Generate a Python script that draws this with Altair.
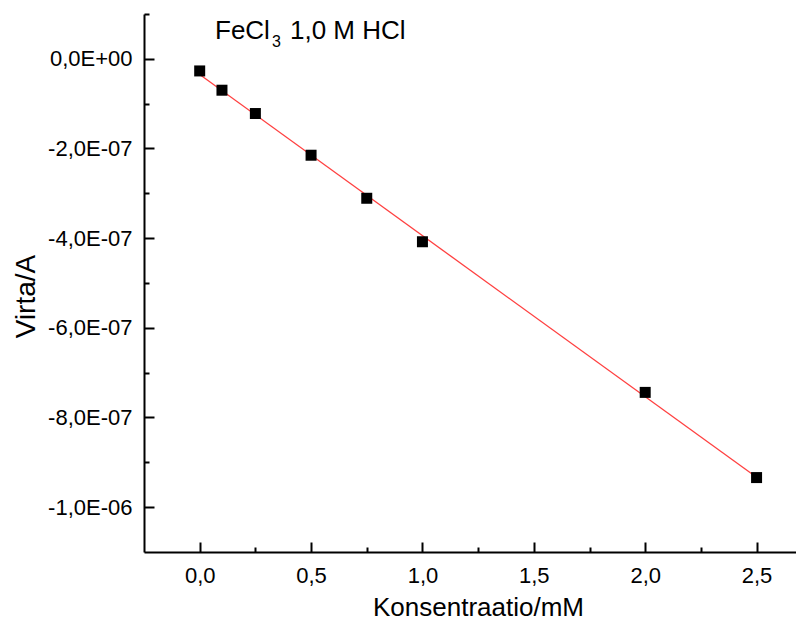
import altair as alt
import pandas as pd

# data
conc = [0.0, 0.1, 0.25, 0.5, 0.75, 1.0, 2.0, 2.5]
current = [-2.7e-8, -7.0e-8, -1.22e-7, -2.15e-7, -3.11e-7, -4.08e-7, -7.44e-7, -9.34e-7]

x_major = [0.0, 0.5, 1.0, 1.5, 2.0, 2.5]
x_minor = [0.25, 0.75, 1.25, 1.75, 2.25]
y_major = [-1.0e-6, -8.0e-7, -6.0e-7, -4.0e-7, -2.0e-7, 0.0]
y_minor = [-9e-7, -7e-7, -5e-7, -3e-7, -1e-7, 1e-7]

x_domain = [-0.25, 2.677]
y_domain = [-1.1e-6, 1.0e-7]

note_main = "FeCl"
note_sub = "3"
note_rest = "1,0 M HCl"
x_title = "Konsentraatio/mM"
y_title = "Virta/A"

W, H = 652, 538
FONT = "Liberation Sans"

df = pd.DataFrame({"c": conc, "i": current})

xs = alt.Scale(domain=x_domain, nice=False, zero=False)
ys = alt.Scale(domain=y_domain, nice=False, zero=False)

LOGE = "floor(log(abs(datum.value))/LN10 + 1e-9)"
y_label_expr = (
    "datum.value == 0 ? '0,0E+00' : (datum.value < 0 ? '-' : '') + "
    f"replace(format(abs(datum.value) / pow(10, {LOGE}), '.1f'), '.', ',') + 'E' + "
    f"({LOGE} < 0 ? '-' : '+') + pad(toString(abs({LOGE})), 2, '0', 'left')"
)
x_label_expr = "replace(format(datum.value, '.1f'), '.', ',')"

base = alt.Chart(df)

# labelled axes (left / bottom), no ticks
points = base.mark_square(size=121, color="black", opacity=1).encode(
    x=alt.X("c:Q", scale=xs, title=x_title,
            axis=alt.Axis(orient="bottom", values=x_major, ticks=False, tickSize=0,
                          grid=False, domain=True, domainColor="black", domainWidth=2,
                          labelExpr=x_label_expr, labelFont=FONT, labelFontSize=22,
                          labelColor="black", labelPadding=13,
                          titleFont=FONT, titleFontSize=26, titleFontWeight="normal",
                          titleColor="black", titleX=334, titleY=42,
                          titleBaseline="top", titleAlign="center")),
    y=alt.Y("i:Q", scale=ys, title=y_title,
            axis=alt.Axis(orient="left", values=y_major, ticks=False, tickSize=0,
                          grid=False, domain=True, domainColor="black", domainWidth=2,
                          labelExpr=y_label_expr, labelFont=FONT, labelFontSize=22,
                          labelColor="black", labelPadding=12,
                          titleFont=FONT, titleFontSize=28, titleFontWeight="normal",
                          titleColor="black", titleX=-104, titleY=282,
                          titleAngle=270, titleBaseline="bottom", titleAlign="center")),
)

# inward major ticks
fit = base.transform_regression("c", "i").mark_line(color="#ff4040", strokeWidth=1.3).encode(
    x=alt.X("c:Q", scale=xs, title=None,
            axis=alt.Axis(orient="top", offset=-H, values=x_major, tickSize=10, tickWidth=2,
                          tickColor="black", labels=False, domain=False, grid=False)),
    y=alt.Y("i:Q", scale=ys, title=None,
            axis=alt.Axis(orient="right", offset=-W, values=y_major, tickSize=10, tickWidth=2,
                          tickColor="black", labels=False, domain=False, grid=False)),
)

# inward minor ticks
minor = base.mark_point(opacity=0).encode(
    x=alt.X("c:Q", scale=xs, title=None,
            axis=alt.Axis(orient="top", offset=-H, values=x_minor, tickSize=5, tickWidth=2,
                          tickColor="black", labels=False, domain=False, grid=False)),
    y=alt.Y("i:Q", scale=ys, title=None,
            axis=alt.Axis(orient="right", offset=-W, values=y_minor, tickSize=5, tickWidth=2,
                          tickColor="black", labels=False, domain=False, grid=False)),
)

t_main = alt.Chart(pd.DataFrame({"t": [note_main]})).mark_text(
    align="left", baseline="alphabetic", font=FONT, fontSize=26, color="black"
).encode(x=alt.value(71), y=alt.value(25), text="t:N")
t_sub = alt.Chart(pd.DataFrame({"t": [note_sub]})).mark_text(
    align="left", baseline="alphabetic", font=FONT, fontSize=16, color="black"
).encode(x=alt.value(128), y=alt.value(33), text="t:N")
t_rest = alt.Chart(pd.DataFrame({"t": [note_rest]})).mark_text(
    align="left", baseline="alphabetic", font=FONT, fontSize=26, color="black"
).encode(x=alt.value(146), y=alt.value(25), text="t:N")

chart = alt.layer(minor, fit, points, t_main, t_sub, t_rest).resolve_axis(
    x="independent", y="independent"
).properties(
    width=W, height=H,
    autosize=alt.AutoSizeParams(type="none"),
    padding={"left": 136, "top": 6, "right": 0, "bottom": 68},
).configure_view(strokeWidth=0)

chart.save("out.html", embed_options={"renderer": "svg", "actions": False})
